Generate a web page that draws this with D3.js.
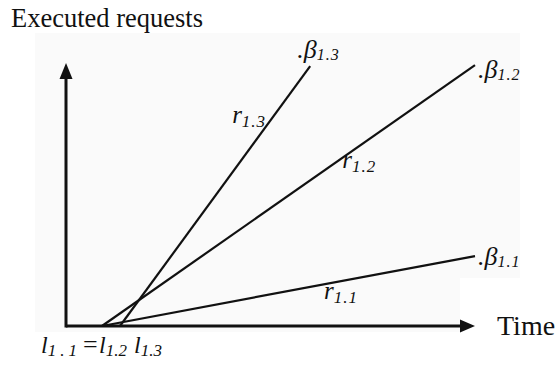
<!DOCTYPE html>
<html>
<head>
<meta charset="utf-8">
<script src="https://cdn.jsdelivr.net/npm/d3@7"></script>
<style>
  body { margin: 0; background: #fff; }
  text { font-family: "Liberation Serif", "Times New Roman", serif; fill: #111; }
</style>
</head>
<body>
<div id="chart"></div>
<script>
// request lines: id, start time l, end point (time, executed requests)
const lineIds = ['1.1', '1.2', '1.3'];
const startTimes = [8.8, 8.8, 13.2];
const endTimes = [100, 100, 59.7];
const endRequests = [26.7, 99.6, 99.2];

const xLabel = 'Time';
const yLabel = 'Executed requests';

const W = 559, H = 367;
const svg = d3.select('#chart').append('svg')
    .attr('width', W).attr('height', H);

const x = d3.scaleLinear().domain([0, 100]).range([66, 475]);
const y = d3.scaleLinear().domain([0, 100]).range([326, 64]);

// faint scanned-paper background
svg.append('path')
    .attr('d', 'M35,33H520V278H460V332H35Z')
    .attr('fill', '#fafafa');

const lines = lineIds.map((id, i) => ({
    id,
    x0: startTimes[i], y0: 0,
    x1: endTimes[i], y1: endRequests[i]
}));

// axes with arrow heads
svg.append('line')
    .attr('x1', x(0)).attr('y1', y(0))
    .attr('x2', x(100) - 12).attr('y2', y(0))
    .attr('stroke', '#111').attr('stroke-width', 3);
svg.append('line')
    .attr('x1', x(0)).attr('y1', y(0) + 1.5)
    .attr('x2', x(0)).attr('y2', y(100) + 12)
    .attr('stroke', '#111').attr('stroke-width', 3);

svg.append('path')
    .attr('d', `M${x(100)},${y(0)}L${x(100) - 15},${y(0) - 6.5}L${x(100) - 15},${y(0) + 6.5}Z`)
    .attr('fill', '#111');
svg.append('path')
    .attr('d', `M${x(0)},${y(100) - 1}L${x(0) - 6.5},${y(100) + 15}L${x(0) + 6.5},${y(100) + 15}Z`)
    .attr('fill', '#111');

// request lines
svg.selectAll('.req')
    .data(lines)
    .enter()
    .append('line')
    .attr('class', 'req')
    .attr('x1', d => x(d.x0)).attr('y1', d => y(d.y0))
    .attr('x2', d => x(d.x1)).attr('y2', d => y(d.y1))
    .attr('stroke', '#111')
    .attr('stroke-width', 2.2);

function subLabel(g, main, sub, px, py, mainSize, subSize, dy) {
    const t = g.append('text')
        .attr('x', px).attr('y', py)
        .style('font-style', 'italic')
        .style('font-size', mainSize + 'px');
    t.append('tspan').text(main);
    t.append('tspan')
        .attr('dy', dy)
        .style('font-size', subSize + 'px')
        .style('letter-spacing', '1px')
        .text(sub);
    return t;
}

// beta labels at line ends
const betaOffset = { '1.1': [3, 9], '1.2': [3, 13], '1.3': [-13, -8] };
lines.forEach(d => {
    const o = betaOffset[d.id];
    subLabel(svg, '.\u03b2', d.id, x(d.x1) + o[0], y(d.y1) + o[1], 26, 16, 2);
});

// r labels along the lines
const rPos = { '1.1': [0.63, -13, 17], '1.2': [0.66, -6, 14], '1.3': [0.80, -40, 5] };
lines.forEach(d => {
    const p = rPos[d.id];
    const px = x(d.x0) + (x(d.x1) - x(d.x0)) * p[0];
    const py = y(d.y0) + (y(d.y1) - y(d.y0)) * p[0];
    subLabel(svg, 'r', d.id, px + p[1], py + p[2], 25, 17, 4);
});

// start-time labels under the axis
const lt = svg.append('text')
    .attr('y', 353)
    .style('font-style', 'italic')
    .style('font-size', '24px');
const sub = s => s.style('font-size', '17px');
lt.append('tspan').attr('x', 41).text('l');
sub(lt.append('tspan').attr('dy', 3).style('letter-spacing', '4px')).text(lineIds[0]);
lt.append('tspan').attr('x', 83).attr('dy', -3).style('font-style', 'normal').style('font-size', '26px').text('=');
lt.append('tspan').attr('x', 99).text('l');
sub(lt.append('tspan').attr('dy', 3)).text(lineIds[1]);
lt.append('tspan').attr('x', 134).attr('dy', -3).text('l');
sub(lt.append('tspan').attr('dy', 3)).text(lineIds[2]);

// axis titles
svg.append('text')
    .attr('x', 11).attr('y', 27)
    .style('font-size', '26.5px')
    .text(yLabel);
svg.append('text')
    .attr('x', 497).attr('y', 335)
    .style('font-size', '28px')
    .text(xLabel);
</script>
</body>
</html>
